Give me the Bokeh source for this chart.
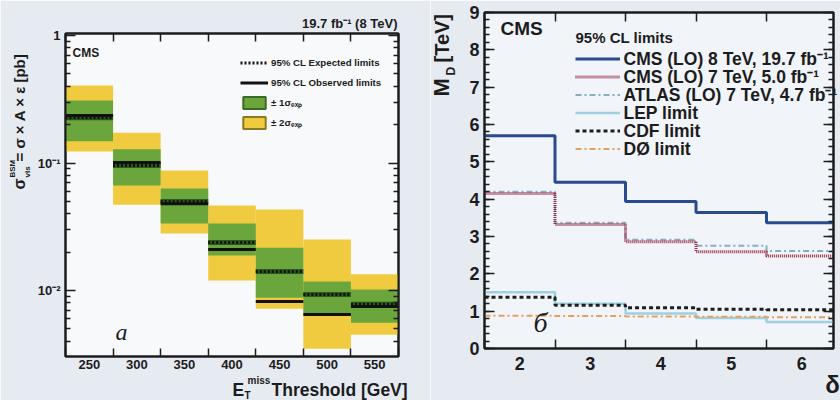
import math
from bokeh.plotting import figure
from bokeh.models import FixedTicker, LinearAxis, LogAxis, Label, Legend, LegendItem, Range1d
from bokeh.embed import file_html
from bokeh.resources import INLINE

FONT = "Liberation Sans"
SERIF = "Liberation Serif"

# ---------------- panel (a) data ----------------
met_thresholds = [250, 300, 350, 400, 450, 500, 550]
exp_limit = [0.227, 0.0955, 0.050, 0.0238, 0.0141, 0.0093, 0.0078]
obs_limit = [0.236, 0.101, 0.048, 0.021, 0.0082, 0.0065, 0.0075]
sig1_lo = [0.148, 0.0667, 0.0335, 0.0188, 0.0088, 0.0066, 0.0056]
sig1_hi = [0.309, 0.128, 0.063, 0.0335, 0.0217, 0.0118, 0.0102]
sig2_lo = [0.123, 0.047, 0.028, 0.012, 0.0072, 0.0035, 0.0045]
sig2_hi = [0.405, 0.173, 0.0873, 0.0464, 0.0432, 0.0251, 0.0134]
left_yticks = [0.01, 0.1, 1.0]
left_ytick_labels = ["10⁻²", "10⁻¹", "1"]

# ---------------- panel (b) data ----------------
delta_vals = [2, 3, 4, 5, 6]
md_cms8 = [5.70, 4.45, 3.94, 3.64, 3.37]
md_cms7 = [4.15, 3.32, 2.86, 2.59, 2.48]
md_atlas = [4.20, 3.37, 2.91, 2.75, 2.61]
md_lep = [1.51, 1.20, 0.94, 0.82, 0.71]
md_cdf = [1.37, 1.16, 1.09, 1.05, 1.04]
md_d0 = [0.88, 0.87, 0.86, 0.85, 0.84]
right_yticks = list(range(0, 10))
right_legend_title = "95% CL limits"
right_legend_labels = ["CMS (LO) 8 TeV, 19.7 fb⁻¹", "CMS (LO) 7 TeV, 5.0 fb⁻¹",
                       "ATLAS (LO) 7 TeV, 4.7 fb⁻¹", "LEP limit", "CDF limit", "DØ limit"]

YEL = "#F1CB3F"
GRN = "#6BA63C"
INK = "#1c1c1c"
PAGE = "#e6ebf2"


def style_axis(ax, label_size, hide=False):
    ax.axis_line_color = INK
    ax.axis_line_width = 2
    ax.major_tick_line_color = INK
    ax.minor_tick_line_color = INK
    ax.major_tick_line_width = 1.5
    ax.minor_tick_line_width = 1.5
    ax.major_label_text_font = FONT
    ax.major_label_text_font_style = "bold"
    ax.major_label_text_font_size = label_size
    ax.major_label_text_color = None if hide else INK
    if hide:
        ax.major_label_standoff = 0


# ================= left figure =================
F1L, F1R, F1T, F1B = 65, 398, 33, 356
p1 = figure(width=430, height=400, y_axis_type="log",
            x_range=Range1d(225, 575), y_range=Range1d(0.00304, 1.037),
            output_backend="svg", toolbar_location=None,
            min_border_left=F1L, min_border_right=430 - F1R,
            min_border_top=F1T, min_border_bottom=400 - F1B)
p1.grid.visible = False
p1.background_fill_color = "#f8f9fb"
p1.border_fill_color = PAGE
p1.outline_line_color = INK
p1.outline_line_width = 2

half = (met_thresholds[1] - met_thresholds[0]) / 2
lefts = [t - half for t in met_thresholds]
rights = [t + half for t in met_thresholds]
edges1 = lefts + [rights[-1]]

p1.quad(left=lefts, right=rights, bottom=sig2_lo, top=sig2_hi, fill_color=YEL, line_color=None)
p1.quad(left=lefts, right=rights, bottom=sig1_lo, top=sig1_hi, fill_color=GRN, line_color=None)
p1.segment(x0=lefts, x1=rights, y0=exp_limit, y1=exp_limit, line_color="#2c5a1c", line_width=5)
r_exp = p1.segment(x0=lefts, x1=rights, y0=exp_limit, y1=exp_limit, line_color="#111111",
                   line_width=3, line_dash="2 2")
r_obs = p1.segment(x0=lefts, x1=rights, y0=obs_limit, y1=obs_limit, line_color="#111111",
                   line_width=3)
leg_g = p1.quad(left=[0], right=[0], bottom=[1], top=[1], fill_color=GRN, line_color="#3b6b22", line_width=2)
leg_y = p1.quad(left=[0], right=[0], bottom=[1], top=[1], fill_color=YEL, line_color="#8a7a20", line_width=2)

minors_log = [k * 10.0 ** e for e in (-3, -2, -1) for k in range(2, 10)]

p1.xaxis.ticker = FixedTicker(ticks=met_thresholds, minor_ticks=edges1)
p1.yaxis.ticker = FixedTicker(ticks=left_yticks, minor_ticks=minors_log)
p1.yaxis.major_label_overrides = {v: s for v, s in zip(left_yticks, left_ytick_labels)}
for ax in p1.xaxis:
    style_axis(ax, "13px")
    ax.major_tick_in = 0
    ax.major_tick_out = 0
    ax.minor_tick_in = 8
    ax.minor_tick_out = 0
    ax.major_label_standoff = 3
for ax in p1.yaxis:
    style_axis(ax, "13px")
    ax.major_tick_in = 10
    ax.major_tick_out = 0
    ax.minor_tick_in = 5
    ax.minor_tick_out = 0
    ax.major_label_standoff = 5

top1 = LinearAxis(ticker=FixedTicker(ticks=edges1, minor_ticks=[]))
style_axis(top1, "6px", hide=True)
top1.major_tick_in = 8
top1.major_tick_out = 0
p1.add_layout(top1, "above")
right1 = LogAxis(ticker=FixedTicker(ticks=left_yticks, minor_ticks=minors_log))
style_axis(right1, "6px", hide=True)
right1.major_tick_in = 10
right1.major_tick_out = 0
right1.minor_tick_in = 5
right1.minor_tick_out = 0
p1.add_layout(right1, "right")

leg1 = Legend(items=[LegendItem(label="95% CL Expected limits", renderers=[r_exp]),
                     LegendItem(label="95% CL Observed limits", renderers=[r_obs]),
                     LegendItem(label="± 1σₑₓₚ", renderers=[leg_g]),
                     LegendItem(label="± 2σₑₓₚ", renderers=[leg_y])],
              location=(240 - F1L, F1B - 130), background_fill_alpha=0,
              border_line_color=None, padding=0, margin=0, spacing=5,
              glyph_width=28, glyph_height=15, label_height=15, label_standoff=3,
              label_text_font=FONT, label_text_font_style="bold",
              label_text_font_size="9.7px", label_text_color=INK)
p1.add_layout(leg1)

# ================= right figure =================
OX = 430
F2L, F2R, F2T, F2B = 484, 833, 12, 348
p2 = figure(width=410, height=400,
            x_range=Range1d(1.5, 6.45), y_range=Range1d(0, 9),
            output_backend="svg", toolbar_location=None,
            min_border_left=F2L - OX, min_border_right=840 - F2R,
            min_border_top=F2T, min_border_bottom=400 - F2B)
p2.grid.visible = False
p2.background_fill_color = "#f1f4f9"
p2.border_fill_color = PAGE
p2.outline_line_color = INK
p2.outline_line_width = 2

edges2 = [d - 0.5 for d in delta_vals] + [delta_vals[-1] + 0.5]


def stepv(v):
    return list(v) + [v[-1]]


r_lep = p2.step(edges2, stepv(md_lep), mode="after", line_color="#9fd0e2", line_width=2.5)
r_d0 = p2.step(edges2, stepv(md_d0), mode="after", line_color="#e4a15e", line_width=2,
               line_dash="6 3 2 3")
r_cdf = p2.step(edges2, stepv(md_cdf), mode="after", line_color="#1e1e1e", line_width=3,
                line_dash="4 3")
r_atl = p2.step(edges2, stepv(md_atlas), mode="after", line_color="#86aec2", line_width=2,
                line_dash="6 3 2 3")
r_c7 = p2.step(edges2, stepv(md_cms7), mode="after", line_color="#9b2a45", line_width=3,
               line_dash="1 1")
r_c8 = p2.step(edges2, stepv(md_cms8), mode="after", line_color="#2a4a8e", line_width=3)

yminor2 = [i / 5 for i in range(0, 46)]
p2.xaxis.ticker = FixedTicker(ticks=delta_vals, minor_ticks=edges2)
p2.yaxis.ticker = FixedTicker(ticks=right_yticks, minor_ticks=yminor2)
for ax in p2.xaxis:
    style_axis(ax, "18px")
    ax.major_tick_in = 0
    ax.major_tick_out = 0
    ax.minor_tick_in = 9
    ax.minor_tick_out = 0
    ax.major_label_standoff = 8
for ax in p2.yaxis:
    style_axis(ax, "18px")
    ax.major_tick_in = 10
    ax.major_tick_out = 0
    ax.minor_tick_in = 5
    ax.minor_tick_out = 0
    ax.major_label_standoff = 5

top2 = LinearAxis(ticker=FixedTicker(ticks=edges2, minor_ticks=[]))
style_axis(top2, "6px", hide=True)
top2.major_tick_in = 9
top2.major_tick_out = 0
p2.add_layout(top2, "above")
right2 = LinearAxis(ticker=FixedTicker(ticks=right_yticks, minor_ticks=yminor2))
style_axis(right2, "6px", hide=True)
right2.major_tick_in = 10
right2.major_tick_out = 0
right2.minor_tick_in = 5
right2.minor_tick_out = 0
p2.add_layout(right2, "right")

# legend sample glyphs (texts are set on the overlay so they can match the tight row pitch)
leg2 = Legend(items=[LegendItem(label=" ", renderers=[r]) for r in
                     (r_c8, r_c7, r_atl, r_lep, r_cdf, r_d0)],
              location=(575 - F2L, F2B - 156), background_fill_alpha=0,
              border_line_color=None, padding=0, margin=0, spacing=3,
              glyph_width=45, glyph_height=15, label_height=15, label_standoff=0,
              label_text_font=FONT, label_text_font_size="8px", label_width=0)
p2.add_layout(leg2)

# ================= text overlay (image pixel coordinates) =================
p3 = figure(width=840, height=400, x_range=Range1d(0, 840), y_range=Range1d(400, 0),
            x_axis_type=None, y_axis_type=None, output_backend="svg",
            toolbar_location=None, min_border=0)
p3.grid.visible = False
p3.outline_line_color = None
p3.background_fill_color = None
p3.border_fill_color = None


def lab(px, py, text, size, font=FONT, style="bold", align="left",
        baseline="middle", angle=0.0, color=INK):
    p3.add_layout(Label(x=px, y=py, text=text, text_font=font,
                        text_font_size=f"{size}px", text_font_style=style,
                        text_align=align, text_baseline=baseline, angle=angle,
                        text_color=color))


UP = math.pi / 2
# left panel
lab(72, 52, "CMS", 12)
lab(397, 23, "19.7 fb⁻¹ (8 TeV)", 13, align="right")
lab(115, 331, "a", 24, font=SERIF, style="italic")
lab(19, 189, "σ", 16, angle=UP)
lab(12, 177, "BSM", 8, angle=UP)
lab(27, 177, "vis", 8, angle=UP)
lab(19, 161, "= σ × A × ε [pb]", 15, angle=UP)
lab(232, 389, "E", 17.5)
lab(244, 395, "T", 10)
lab(247, 380, "miss", 10)
lab(271, 389, "Threshold [GeV]", 17.5)
# right panel
lab(500, 28, "CMS", 19)
lab(575, 37, right_legend_title, 15)
for i, txt in enumerate(right_legend_labels):
    lab(623, 58.5 + 18 * i, txt, 17.5)
lab(533, 322, "б", 28, font=SERIF, style="italic")
lab(441, 96, "M", 22, angle=UP)
lab(450, 75, "D", 12, angle=UP)
lab(441, 62, "[TeV]", 20, angle=UP)
lab(832, 384, "δ", 24, align="center")

TEMPLATE = """
{% block postamble %}
<style>
html, body { display: block !important; position: relative !important; margin: 0 !important;
             padding: 0 !important; width: 840px; height: 400px; overflow: hidden; }
body > div:nth-of-type(1) { display: block !important; position: absolute !important; left: 0px; top: 0px; }
body > div:nth-of-type(2) { display: block !important; position: absolute !important; left: 430px; top: 0px; }
body > div:nth-of-type(3) { display: block !important; position: absolute !important; left: 0px; top: 0px; }
</style>
{% endblock %}
"""

html = file_html((p1, p2, p3), INLINE, template=TEMPLATE)
open("out.html", "w").write(html)
